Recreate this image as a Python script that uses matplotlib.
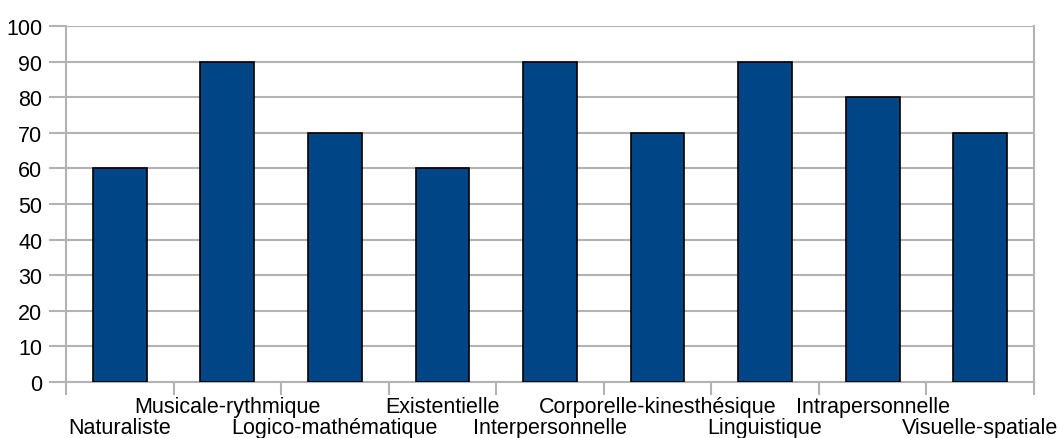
import numpy as np
import matplotlib.pyplot as plt

categories = ['Naturaliste', 'Musicale-rythmique', 'Logico-mathématique', 'Existentielle',
              'Interpersonnelle', 'Corporelle-kinesthésique', 'Linguistique',
              'Intrapersonnelle', 'Visuelle-spatiale']
values = [60, 90, 70, 60, 90, 70, 90, 80, 70]

plt.rcParams['font.family'] = ['Liberation Sans', 'DejaVu Sans']
grid_col = '#b3b3b3'

fig = plt.figure(figsize=(10.58, 4.39), dpi=100)
ax = fig.add_axes([66 / 1058, 1 - 383 / 439, (1034 - 66) / 1058, (383 - 27) / 439])

x = np.arange(len(categories))
ax.bar(x, values, width=0.5, color='#004586', edgecolor='black', linewidth=1.2, zorder=3)

ax.set_xlim(-0.5, len(categories) - 0.5)
ax.set_ylim(0, 100)
ax.set_yticks(range(0, 101, 10))
ax.yaxis.grid(True, color=grid_col, linewidth=1.5, zorder=0)
ax.tick_params(axis='y', length=12, width=1.5, color=grid_col, labelsize=15.5, pad=5)

# category boundaries get the tick marks, labels sit in between (staggered)
ax.set_xticks(np.arange(len(categories) + 1) - 0.5)
ax.set_xticklabels([])
ax.tick_params(axis='x', length=9, width=1.5, color=grid_col)
for i, name in enumerate(categories):
    y_off = -0.098 if i % 2 == 0 else -0.039
    ax.text(i, y_off, name, transform=ax.get_xaxis_transform(), ha='center', va='top',
            fontsize=15.5)

for side in ['left', 'right', 'top', 'bottom']:
    ax.spines[side].set_color(grid_col)
    ax.spines[side].set_linewidth(1.5)
ax.spines['top'].set_visible(False)

plt.savefig('out.png', dpi=100)
